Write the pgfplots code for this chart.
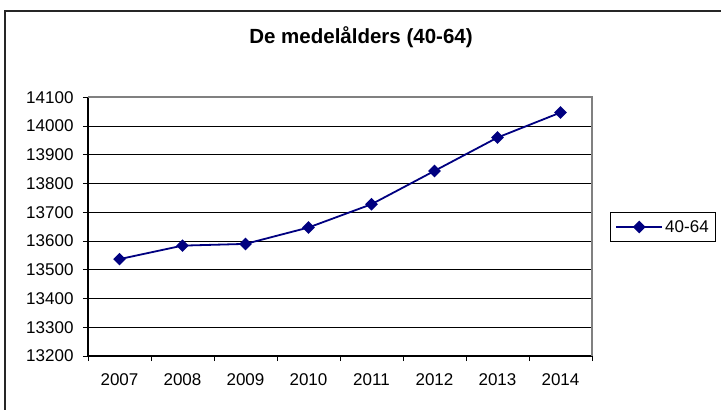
\documentclass[border=0pt]{standalone}
\usepackage{fontspec}
\setmainfont{Liberation Sans}
\usepackage{pgfplots}
\pgfplotsset{compat=1.18}
\definecolor{navy}{HTML}{000080}
\definecolor{frame}{HTML}{808080}

\begin{document}
\begin{tikzpicture}[x=1pt,y=1pt]
\useasboundingbox (0,0) rectangle (721,410);
% outer chart border (right and bottom fall outside the picture)
\draw[line width=2pt, black!85] (5,-5) -- (5,398.5) -- (730,398.5);
\node[font=\fontsize{20.5}{24}\selectfont\bfseries] at (361,373) {De medelålders (40-64)};

\begin{axis}[
  at={(88pt,54pt)}, anchor=south west,
  width=504pt, height=258.7pt, scale only axis,
  xmin=0.5, xmax=8.5,
  ymin=13200, ymax=14100,
  xtick={0.5,1.5,...,8.5},
  x tick label as interval,
  xticklabels={2007,2008,2009,2010,2011,2012,2013,2014},
  ytick={13200,13300,...,14100},
  scaled ticks=false,
  axis x line*=bottom, axis y line*=left,
  axis line style={black, line width=1.6pt},
  tick align=outside, major tick length=5pt,
  tick style={black, line width=0.9pt},
  ymajorgrids, major grid style={black, line width=0.9pt},
  tick label style={font=\fontsize{17}{20}\selectfont},
  /pgf/number format/assume math mode=true,
  /pgf/number format/1000 sep={},
  /pgf/number format/fixed,
  yticklabel style={anchor=east, xshift=-6pt},
  xticklabel style={anchor=center, yshift=-19pt},
  legend style={at={(axis description cs:1.0357,0.4986)}, anchor=west,
    draw=black, line width=0.9pt, fill=white,
    font=\fontsize{17}{20}\selectfont,
    inner xsep=5pt, inner ysep=5.5pt},
  legend image code/.code={
    \draw[#1, mark=none] (0pt,0pt) -- (46pt,0pt);
    \draw[#1, only marks] plot coordinates {(23pt,0pt)};
  },
  after end axis/.code={
    \draw[frame, line width=2pt] (rel axis cs:0,1) -- (rel axis cs:1,1) -- (rel axis cs:1,0);
  },
]
\addplot[navy, line width=1.8pt, mark=square*, mark size=3.6pt,
  mark options={rotate=45, solid, fill=navy, draw=navy}]
  coordinates {
    (1,13537) (2,13584) (3,13590) (4,13647)
    (5,13728) (6,13844) (7,13960) (8,14047)
  };
\addlegendentry{40-64}
\end{axis}
\end{tikzpicture}
\end{document}
